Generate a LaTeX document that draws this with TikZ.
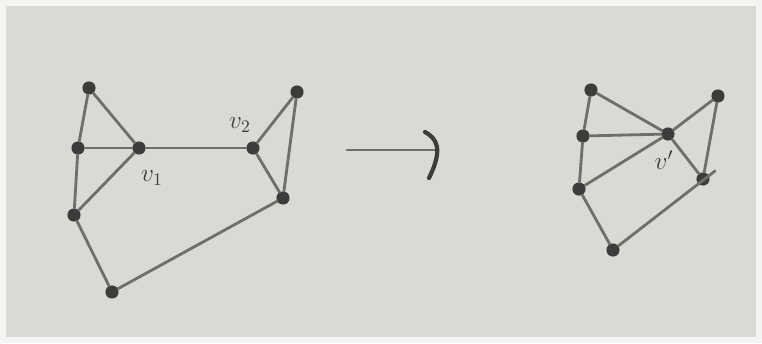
\documentclass[tikz,border=0pt]{standalone}
\begin{document}
\begin{tikzpicture}[x=0.02cm,y=-0.02cm,
  vtx/.style={circle,fill=dot,inner sep=0pt,minimum size=7.5pt},
  edge/.style={draw=ink,line width=1.6pt,line cap=round},
  lbl/.style={text=dot,font=\Large}]
\definecolor{paper}{HTML}{D9D9D6}
\definecolor{ink}{HTML}{6E6E6C}
\definecolor{dot}{HTML}{3C3C3B}
\fill[white!70!paper] (0,0) rectangle (762,343);
\fill[paper] (6,6) rectangle (756,337);
\useasboundingbox (0,0) rectangle (762,343);
% left graph
\node[vtx] (A) at (89,88) {};
\node[vtx] (B) at (78,148) {};
\node[vtx] (v1) at (139,148) {};
\node[vtx] (v2) at (253,148) {};
\node[vtx] (D) at (297,92) {};
\node[vtx] (E) at (283,198) {};
\node[vtx] (F) at (74,215) {};
\node[vtx] (G) at (112,292) {};
\foreach \a/\b in {A/B,A/v1,B/v1,v1/v2,v2/D,D/E,v2/E,B/F,F/v1,F/G,G/E}
  \draw[edge] (\a) -- (\b);
\node[lbl] (l1) at (152,178) {$v_1$};
\node[lbl] (l2) at (240,125) {$v_2$};
% arrow
\coordinate (s) at (347,150);
\coordinate (t) at (438,150);
\coordinate (h1) at (425,132);
\coordinate (h2) at (429,178);
\draw[edge] (s) -- (t);
\draw[draw=dot,line width=2.4pt,line cap=round] (h1) .. controls (436,138) and (444,148) .. (h2);
% right graph
\node[vtx] (a) at (591,90) {};
\node[vtx] (b) at (583,136) {};
\node[vtx] (vp) at (668,134) {};
\node[vtx] (d) at (718,96) {};
\node[vtx] (e) at (703,179) {};
\node[vtx] (f) at (579,189) {};
\node[vtx] (g) at (613,250) {};
\coordinate (ee) at (715,171);
\foreach \a/\b in {a/b,a/vp,b/vp,vp/d,d/e,vp/e,b/f,f/vp,f/g}
  \draw[edge] (\a) -- (\b);
\draw[edge] (g) -- (ee);
\node[lbl] (lp) at (664,160) {$v'$};
\end{tikzpicture}
\end{document}
